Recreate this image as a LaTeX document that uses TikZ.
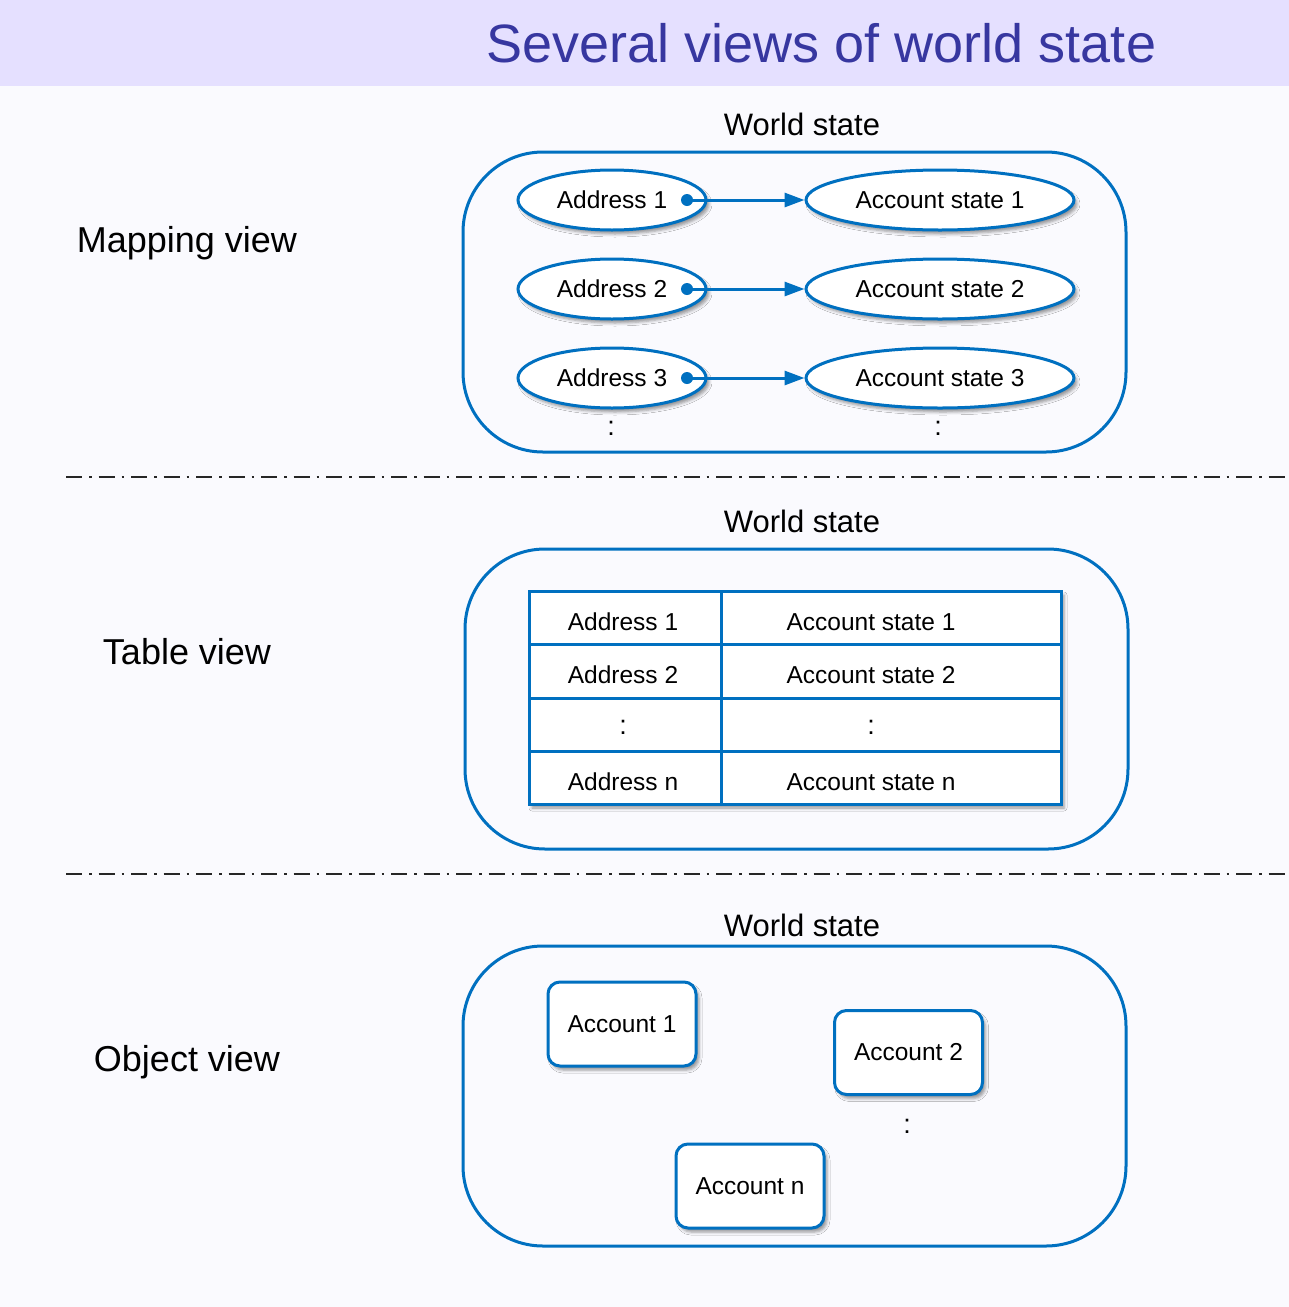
\documentclass[tikz,border=0pt]{standalone}
\usepackage{fontspec}
\setmainfont{Liberation Sans}
\usetikzlibrary{arrows.meta,shapes.geometric,shadows.blur}
\definecolor{hdr}{RGB}{229,224,255}
\definecolor{bgc}{RGB}{250,250,254}
\definecolor{ttl}{RGB}{55,55,160}
\definecolor{bl}{RGB}{0,112,192}
\tikzset{
  fs/.style={font=\fontsize{#1}{#1}\selectfont},
  shd/.style={blur shadow={shadow xshift=3pt,shadow yshift=-4pt,shadow blur radius=3pt,shadow opacity=40}},
  container/.style={draw=bl,line width=3pt,rounded corners=80pt,minimum width=663pt,minimum height=300pt,inner sep=0pt},
  addr/.style={ellipse,draw=bl,line width=3pt,fill=white,shd,minimum width=188pt,minimum height=60pt,inner sep=0pt,fs=24.5},
  accst/.style={ellipse,draw=bl,line width=3pt,fill=white,shd,minimum width=268pt,minimum height=60pt,inner sep=0pt,fs=24.5},
  dotn/.style={circle,fill=bl,inner sep=0pt,minimum size=12pt},
  conn/.style={draw=bl,line width=3pt,-{Triangle[length=20pt,width=14pt]}},
  wslabel/.style={fs=31},
  viewlabel/.style={fs=36},
  txt/.style={fs=24.5},
  colon/.style={fs=27},
  cell/.style={draw=bl,line width=3pt,inner sep=0pt},
  acct/.style={draw=bl,line width=3pt,fill=white,rounded corners=12pt,shd,minimum width=148pt,minimum height=84pt,inner sep=0pt,fs=24.5},
  sep/.style={line width=2.2pt,draw=black!85,dash pattern=on 16pt off 7pt on 2.5pt off 7pt},
}
\begin{document}
\begin{tikzpicture}[x=1pt,y=-1pt]
\useasboundingbox (0,0) rectangle (1289,1307);
\fill[bgc] (0,0) rectangle (1289,1307);
\fill[hdr] (0,0) rectangle (1289,86);
\node[fs=54,text=ttl] (title) at (821.5,43) {Several views of world state};

% ---------- Mapping view ----------
\node[viewlabel] (mv) at (187,243) {Mapping view};
\node[wslabel] (ws1) at (802,124) {World state};
\node[container] (m) at (794.5,302) {};
\foreach \i/\y in {1/200,2/289,3/378}{
  \node[addr] (a\i) at (612,\y) {Address \i};
  \node[accst] (s\i) at (940,\y) {Account state \i};
  \node[dotn] (p\i) at (687,\y) {};
  \draw[conn] (p\i.center) -- (s\i.west);
}
\node[colon] (c1) at (611,428) {:};
\node[colon] (c2) at (938,428) {:};

\draw[sep] (66,477) coordinate (l1a) -- (1289,477) coordinate (l1b);

% ---------- Table view ----------
\node[viewlabel] (tv) at (187,652) {Table view};
\node[wslabel] (ws2) at (802,521) {World state};
\node[container] (t) at (796.5,699) {};
\node[fill=white,shd,minimum width=532pt,minimum height=213pt,inner sep=0pt] (tbl) at (795,697.5) {};
\foreach \r/\y in {1/618,2/671.33,3/724.67,4/778}{
  \node[cell,minimum width=192pt,minimum height=53.33pt] (l\r) at (625,\y) {};
  \node[cell,minimum width=340pt,minimum height=53.33pt] (r\r) at (891,\y) {};
}
\node[txt] (ta1) at (623,622) {Address 1};
\node[txt] (tb1) at (871,622) {Account state 1};
\node[txt] (ta2) at (623,675) {Address 2};
\node[txt] (tb2) at (871,675) {Account state 2};
\node[colon] (ta3) at (623,727) {:};
\node[colon] (tb3) at (871,727) {:};
\node[txt] (ta4) at (623,782) {Address n};
\node[txt] (tb4) at (871,782) {Account state n};

\draw[sep] (66,874) coordinate (l2a) -- (1289,874) coordinate (l2b);

% ---------- Object view ----------
\node[viewlabel] (ov) at (187,1062) {Object view};
\node[wslabel] (ws3) at (802,925) {World state};
\node[container] (o) at (794.5,1096) {};
\node[acct] (k1) at (622,1024) {Account 1};
\node[acct] (k2) at (908.5,1052.5) {Account 2};
\node[acct] (kn) at (750,1186) {Account n};
\node[colon] (c3) at (907,1126) {:};
\end{tikzpicture}
\end{document}
